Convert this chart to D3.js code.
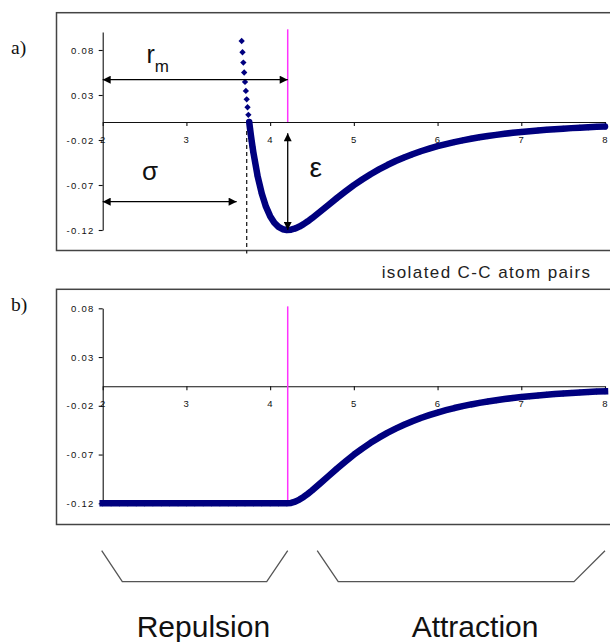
<!DOCTYPE html>
<html>
<head>
<meta charset="utf-8">
<script src="https://cdn.jsdelivr.net/npm/d3@7"></script>
<style>
  html, body { margin: 0; padding: 0; background: #fff; }
  svg { display: block; }
  .tick text { font-family: "Liberation Sans", Arial, sans-serif; font-size: 9.5px; letter-spacing: 1.3px; fill: #111; }
  .axis path, .axis line { stroke: #111; stroke-width: 1.1; }
  .sans { font-family: "Liberation Sans", Arial, sans-serif; fill: #111; }
  .serif { font-family: "Liberation Serif", "Times New Roman", serif; fill: #111; }
</style>
</head>
<body>
<svg id="chart" width="610" height="642"></svg>
<script>
// Pair potential of isolated C-C atom pairs: distance (Å) vs energy
const distA = [3.66, 3.67, 3.68, 3.69, 3.70, 3.71, 3.72, 3.73, 3.74, 3.75, 3.76, 3.77, 3.78, 3.79, 3.80,
  3.85, 3.90, 3.95, 4.00, 4.05, 4.10, 4.15, 4.20, 4.25, 4.30, 4.35, 4.40, 4.45, 4.50,
  4.6, 4.7, 4.8, 4.9, 5.0, 5.1, 5.2, 5.3, 5.4, 5.5, 5.6, 5.7, 5.8, 5.9, 6.0,
  6.1, 6.2, 6.3, 6.4, 6.5, 6.6, 6.7, 6.8, 6.9, 7.0, 7.1, 7.2, 7.3, 7.4, 7.5, 7.6, 7.7, 7.8, 7.9, 8.0];
const energyA = [0.0900, 0.0775, 0.0660, 0.0550, 0.0445, 0.0345, 0.0252, 0.0164, 0.0080, 0.0000, -0.0075, -0.0146, -0.0214, -0.0278, -0.0339,
  -0.0599, -0.0795, -0.0941, -0.1046, -0.1119, -0.1165, -0.1191, -0.1200, -0.1196, -0.1183, -0.1162, -0.1135, -0.1103, -0.1069,
  -0.0995, -0.0919, -0.0843, -0.0771, -0.0702, -0.0639, -0.0580, -0.0527, -0.0478, -0.0434, -0.0394, -0.0358, -0.0325, -0.0296, -0.0269,
  -0.0245, -0.0223, -0.0204, -0.0186, -0.0170, -0.0156, -0.0143, -0.0131, -0.0120, -0.0110, -0.0102, -0.0094, -0.0087, -0.0080, -0.0074, -0.0068, -0.0063, -0.0059, -0.0054, -0.0051];

// Attractive part only: flat at the well depth up to r_m
const distB = [2.0, 2.1, 2.2, 2.3, 2.4, 2.5, 2.6, 2.7, 2.8, 2.9, 3.0, 3.1, 3.2, 3.3, 3.4, 3.5, 3.6, 3.7, 3.8, 3.9, 4.0, 4.1, 4.2,
  4.25, 4.30, 4.35, 4.40, 4.45, 4.50,
  4.6, 4.7, 4.8, 4.9, 5.0, 5.1, 5.2, 5.3, 5.4, 5.5, 5.6, 5.7, 5.8, 5.9, 6.0,
  6.1, 6.2, 6.3, 6.4, 6.5, 6.6, 6.7, 6.8, 6.9, 7.0, 7.1, 7.2, 7.3, 7.4, 7.5, 7.6, 7.7, 7.8, 7.9, 8.0];
const energyB = [-0.12, -0.12, -0.12, -0.12, -0.12, -0.12, -0.12, -0.12, -0.12, -0.12, -0.12, -0.12, -0.12, -0.12, -0.12, -0.12, -0.12, -0.12, -0.12, -0.12, -0.12, -0.12, -0.12,
  -0.1196, -0.1183, -0.1162, -0.1135, -0.1103, -0.1069,
  -0.0995, -0.0919, -0.0843, -0.0771, -0.0702, -0.0639, -0.0580, -0.0527, -0.0478, -0.0434, -0.0394, -0.0358, -0.0325, -0.0296, -0.0269,
  -0.0245, -0.0223, -0.0204, -0.0186, -0.0170, -0.0156, -0.0143, -0.0131, -0.0120, -0.0110, -0.0102, -0.0094, -0.0087, -0.0080, -0.0074, -0.0068, -0.0063, -0.0059, -0.0054, -0.0051];

const xTicks = [2, 3, 4, 5, 6, 7, 8];
const yTicks = [-0.12, -0.07, -0.02, 0.03, 0.08];
const yTickLabels = ["-0.12", "-0.07", "-0.02", "0.03", "0.08"];
const rMin = 4.21;      // position of the minimum, r_m
const sigma = 3.72;     // zero crossing, σ
const wellDepth = -0.12; // ε
const panelTags = ["a)", "b)"];
const regimes = ["Repulsion", "Attraction"];
const note = "isolated C-C atom pairs";

const svg = d3.select("#chart");
const navy = "#00007f";
const magenta = "#ff33ff";

const x = d3.scaleLinear().domain([2, 8]).range([102.7, 605]);
const yA = d3.scaleLinear().domain([-0.12, 0.10]).range([230, 32]);
const yB = d3.scaleLinear().domain([-0.12, 0.08]).range([503.3, 308.3]);

// arrowhead
const defs = svg.append("defs");
defs.append("marker")
  .attr("id", "arrow")
  .attr("viewBox", "0 0 10 10")
  .attr("refX", 10).attr("refY", 5)
  .attr("markerWidth", 11).attr("markerHeight", 8)
  .attr("markerUnits", "userSpaceOnUse")
  .attr("orient", "auto-start-reverse")
  .append("path").attr("d", "M0,0 L10,5 L0,10 Z").attr("fill", "#000");

// panel frames
[[12.7, 250.5], [289.3, 524.5]].forEach(([t, b]) => {
  svg.append("rect")
    .attr("x", 56.5).attr("y", t)
    .attr("width", 600).attr("height", b - t)
    .attr("fill", "none").attr("stroke", "#444").attr("stroke-width", 1.5);
});

function drawAxes(y) {
  const g = svg.append("g");
  g.append("g").attr("class", "axis")
    .attr("transform", `translate(0,${y(0)})`)
    .call(d3.axisBottom(x).tickValues(xTicks).tickSize(4).tickSizeOuter(0).tickPadding(10).tickFormat(d3.format("d")));
  g.append("g").attr("class", "axis")
    .attr("transform", `translate(${x(2)},0)`)
    .call(d3.axisLeft(y).tickValues(yTicks).tickSize(4).tickSizeOuter(0).tickPadding(4)
      .tickFormat((d, i) => yTickLabels[i]));
  return g;
}

const diamond = d3.symbol().type(d3.symbolSquare).size(20);

function drawSeries(dist, energy, y, bandFrom, cap) {
  const pts = dist.map((d, i) => ({ r: d, e: energy[i] }));
  const band = pts.filter(p => p.e <= bandFrom);
  const line = d3.line().x(p => x(p.r)).y(p => y(p.e));
  svg.append("path")
    .datum(band)
    .attr("d", line)
    .attr("fill", "none")
    .attr("stroke", navy)
    .attr("stroke-width", 6.5)
    .attr("stroke-linejoin", "round")
    .attr("stroke-linecap", cap);
  svg.append("g").selectAll("path")
    .data(pts)
    .join("path")
    .attr("d", diamond)
    .attr("transform", p => `translate(${x(p.r)},${y(p.e)}) rotate(45)`)
    .attr("fill", navy);
}

// ---- panel a: full potential
drawAxes(yA);
svg.append("line")
  .attr("x1", x(rMin)).attr("x2", x(rMin))
  .attr("y1", yA(0.103)).attr("y2", yA(0))
  .attr("stroke", magenta).attr("stroke-width", 1.5);
drawSeries(distA, energyA, yA, 0.001, "round");

// σ marker (dashed)
svg.append("line")
  .attr("x1", x(sigma)).attr("x2", x(sigma))
  .attr("y1", yA(-0.01)).attr("y2", yA(-0.146))
  .attr("stroke", "#222").attr("stroke-width", 1.3)
  .attr("stroke-dasharray", "4,3");

// r_m arrow
svg.append("line")
  .attr("x1", x(2)).attr("x2", x(rMin))
  .attr("y1", yA(0.047)).attr("y2", yA(0.047))
  .attr("stroke", "#000").attr("stroke-width", 1.3)
  .attr("marker-start", "url(#arrow)").attr("marker-end", "url(#arrow)");
// σ arrow
svg.append("line")
  .attr("x1", x(2)).attr("x2", x(3.6))
  .attr("y1", yA(-0.0885)).attr("y2", yA(-0.0885))
  .attr("stroke", "#000").attr("stroke-width", 1.3)
  .attr("marker-start", "url(#arrow)").attr("marker-end", "url(#arrow)");
// ε arrow
svg.append("line")
  .attr("x1", x(rMin)).attr("x2", x(rMin))
  .attr("y1", yA(-0.0125)).attr("y2", yA(wellDepth))
  .attr("stroke", "#000").attr("stroke-width", 1.3)
  .attr("marker-start", "url(#arrow)").attr("marker-end", "url(#arrow)");

const rm = svg.append("text").attr("class", "sans").attr("x", 146.5).attr("y", 63.3).style("font-size", "25px");
rm.append("tspan").text("r");
rm.append("tspan").attr("dy", 9).style("font-size", "17px").text("m");
svg.append("text").attr("class", "sans").attr("x", 142).attr("y", 180).style("font-size", "26px").text("σ");
svg.append("text").attr("class", "sans").attr("x", 309.5).attr("y", 177).style("font-size", "28px").text("ε");

// ---- panel b: attractive part only
drawAxes(yB);
svg.append("line")
  .attr("x1", x(rMin)).attr("x2", x(rMin))
  .attr("y1", yB(0.082)).attr("y2", yB(-0.117))
  .attr("stroke", magenta).attr("stroke-width", 1.5);
drawSeries(distB, energyB, yB, 1, "square");

// panel tags and note
svg.append("text").attr("class", "serif").attr("x", 11).attr("y", 54).style("font-size", "19.5px").text(panelTags[0]);
svg.append("text").attr("class", "serif").attr("x", 11).attr("y", 311).style("font-size", "19.5px").text(panelTags[1]);
svg.append("text").attr("class", "sans").attr("x", 381.7).attr("y", 278.3)
  .style("font-size", "17px").style("letter-spacing", "1.4px").style("fill", "#222").text(note);

// regime brackets
const brackets = [
  [[x(2) - 1, 550.7], [x(2) + 19.6, 581.7], [x(rMin) - 21, 581.7], [x(rMin), 550.7]],
  [[x(rMin) + 29.5, 550.7], [x(rMin) + 50.5, 581.7], [x(8) - 31, 581.7], [x(8), 550.7]]
];
brackets.forEach(b => {
  svg.append("path")
    .attr("d", d3.line()(b))
    .attr("fill", "none").attr("stroke", "#555").attr("stroke-width", 1.3);
});
svg.append("text").attr("class", "sans").attr("x", 136.7).attr("y", 637.3).style("font-size", "30px").text(regimes[0]);
svg.append("text").attr("class", "sans").attr("x", 411.7).attr("y", 637.3).style("font-size", "30px").text(regimes[1]);
</script>
</body>
</html>
